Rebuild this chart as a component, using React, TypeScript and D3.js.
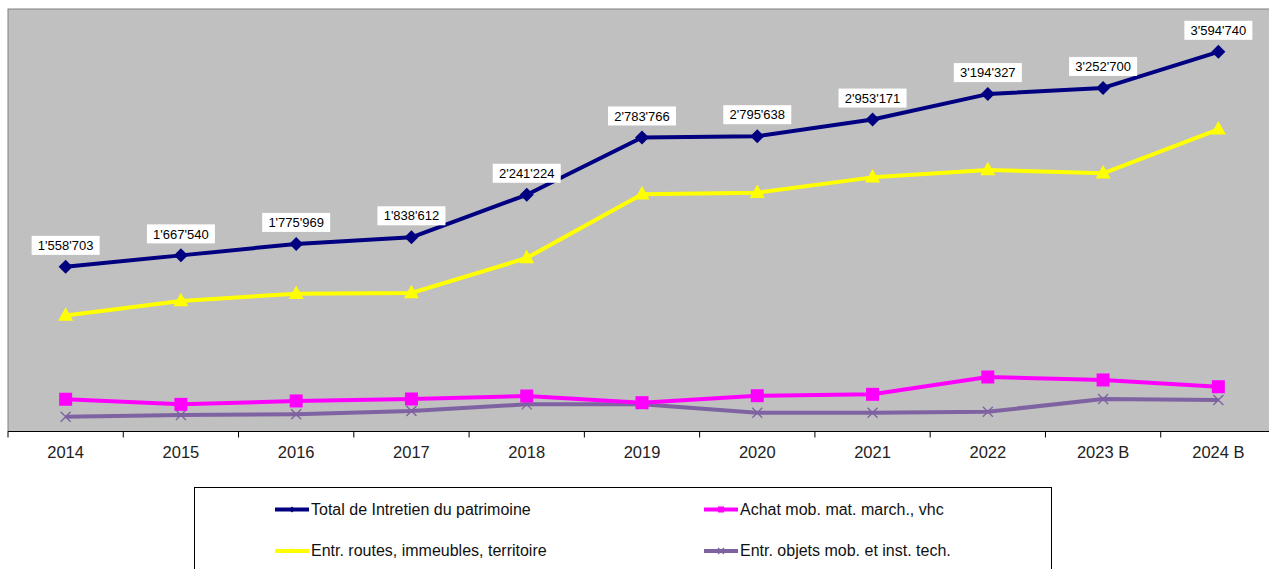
import React from "react";
import * as d3 from "d3";

const categories = ["2014", "2015", "2016", "2017", "2018", "2019", "2020", "2021", "2022", "2023 B", "2024 B"];
const totalValues = [1558703, 1667540, 1775969, 1838612, 2241224, 2783766, 2795638, 2953171, 3194327, 3252700, 3594740];
const routesValues = [1098000, 1235000, 1305000, 1311000, 1643000, 2246000, 2261000, 2406000, 2476000, 2444000, 2861000];
const achatValues = [305000, 257000, 289000, 308000, 336000, 273000, 339000, 352000, 516000, 488000, 424000];
const objetsValues = [140000, 156000, 163000, 194000, 257000, 257000, 178000, 178000, 187000, 308000, 298000];
const seriesNames = [
  "Total de Intretien du patrimoine",
  "Achat mob. mat. march., vhc",
  "Entr. routes, immeubles, territoire",
  "Entr. objets mob. et inst. tech.",
];
const yDomain = [0, 4000000];

const W = 1269;
const H = 569;
const plotL = 8;
const plotR = 1276;
const plotT = 9;
const plotB = 431.5;

const fmt = (v: number) => {
  const s = String(v);
  return s.replace(/\B(?=(\d{3})+(?!\d))/g, "'");
};

type Marker = "diamond" | "square" | "triangle" | "x";

export default function App() {
  const x = d3.scaleBand<string>().domain(categories).range([plotL, plotR]).paddingInner(0).paddingOuter(0);
  const y = d3.scaleLinear().domain(yDomain).range([plotB, plotT]);
  const cx = (c: string) => (x(c) as number) + x.bandwidth() / 2;
  const line = d3
    .line<number>()
    .x((_, i) => cx(categories[i]))
    .y((d) => y(d));

  const series: { name: string; values: number[]; color: string; marker: Marker; width: number }[] = [
    { name: seriesNames[3], values: objetsValues, color: "#7f62a1", marker: "x", width: 4 },
    { name: seriesNames[1], values: achatValues, color: "#ff00ff", marker: "square", width: 4 },
    { name: seriesNames[2], values: routesValues, color: "#ffff00", marker: "triangle", width: 4 },
    { name: seriesNames[0], values: totalValues, color: "#000080", marker: "diamond", width: 4 },
  ];

  const markerPath = (m: Marker, px: number, py: number, s: number) => {
    if (m === "diamond") return `M${px},${py - s}L${px + s},${py}L${px},${py + s}L${px - s},${py}Z`;
    if (m === "square") return `M${px - s},${py - s}h${2 * s}v${2 * s}h${-2 * s}Z`;
    if (m === "triangle") return `M${px},${py - s * 1.1}L${px + s},${py + s * 0.7}L${px - s},${py + s * 0.7}Z`;
    return `M${px - s},${py - s}L${px + s},${py + s}M${px - s},${py + s}L${px + s},${py - s}`;
  };
  const markerSize: Record<Marker, number> = { diamond: 7, square: 6.5, triangle: 7.5, x: 5 };

  const renderMarker = (m: Marker, color: string, px: number, py: number, s: number, key: string) =>
    m === "x" ? (
      <path key={key} d={markerPath(m, px, py, s)} stroke={color} strokeWidth={1.3} fill="none" />
    ) : (
      <path key={key} d={markerPath(m, px, py, s)} fill={color} stroke="none" />
    );

  const ticks = d3.range(categories.length + 1).map((i) => plotL + i * x.bandwidth());

  const legendItems = [
    { s: series[3], lx: 275, ly: 509.5 },
    { s: series[1], lx: 704, ly: 509.5 },
    { s: series[2], lx: 275, ly: 551 },
    { s: series[0], lx: 704, ly: 551 },
  ];

  return (
    <svg
      width={W}
      height={H}
      style={{ position: "absolute", left: 0, top: 0, fontFamily: "Arial, 'Liberation Sans', sans-serif" }}
    >
      <rect x={0} y={0} width={W} height={H} fill="#ffffff" />
      <rect x={plotL} y={plotT} width={plotR - plotL} height={plotB - plotT} fill="#c0c0c0" stroke="#808080" strokeWidth={1} />
      <line x1={plotL} x2={plotR} y1={plotB} y2={plotB} stroke="#000" strokeWidth={1} />
      {ticks.map((t, i) => (
        <line key={i} x1={t} x2={t} y1={plotB} y2={plotB + 6} stroke="#000" strokeWidth={1} />
      ))}
      {categories.map((c) => (
        <text key={c} x={cx(c)} y={458} textAnchor="middle" fontSize={16.5} fill="#222">
          {c}
        </text>
      ))}
      {series.map((s) => (
        <g key={s.name}>
          <path d={line(s.values) || ""} fill="none" stroke={s.color} strokeWidth={s.width} strokeLinejoin="round" />
          {s.values.map((v, i) =>
            renderMarker(s.marker, s.color, cx(categories[i]), y(v), markerSize[s.marker], s.name + i)
          )}
        </g>
      ))}
      {totalValues.map((v, i) => {
        const px = cx(categories[i]);
        const py = y(v);
        const bw = 68;
        return (
          <g key={"lab" + i}>
            <rect x={px - bw / 2} y={py - 31} width={bw} height={19} fill="#ffffff" />
            <text x={px} y={py - 16.8} textAnchor="middle" fontSize={13} fill="#000">
              {fmt(v)}
            </text>
          </g>
        );
      })}
      <rect x={194.5} y={487.5} width={857} height={100} fill="#ffffff" stroke="#000" strokeWidth={1} />
      {legendItems.map(({ s, lx, ly }) => (
        <g key={"leg" + s.name}>
          <line x1={lx} x2={lx + 34} y1={ly} y2={ly} stroke={s.color} strokeWidth={4} />
          {renderMarker(s.marker, s.color, lx + 17, ly, 3, "lm" + s.name)}
          <text x={lx + 36} y={ly + 5.3} fontSize={16} fill="#111">
            {s.name}
          </text>
        </g>
      ))}
    </svg>
  );
}
